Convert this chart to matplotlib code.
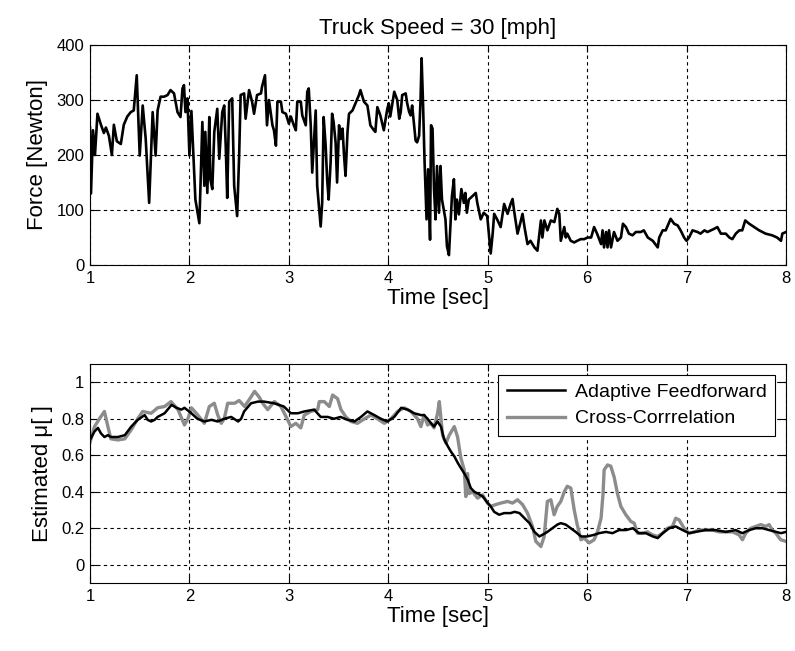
import matplotlib
matplotlib.use("Agg")
import matplotlib.pyplot as plt

plt.rcParams['font.family'] = ['Liberation Sans', 'DejaVu Sans']

# ---- Top panel: force signal ----
force_t = [1.00, 1.01, 1.02, 1.03, 1.05, 1.075, 1.11, 1.14, 1.16, 1.19, 1.22, 1.24, 1.27, 1.31, 1.34,
           1.375, 1.41, 1.44, 1.47, 1.50, 1.53, 1.56, 1.595, 1.63, 1.66, 1.68, 1.71, 1.745, 1.78, 1.81,
           1.845, 1.88, 1.91, 1.93, 1.945, 1.96, 1.98, 2.00, 2.02, 2.04, 2.06, 2.10, 2.13, 2.15, 2.16,
           2.18, 2.20, 2.21, 2.23, 2.25, 2.28, 2.30, 2.315, 2.33, 2.35, 2.365, 2.38, 2.40, 2.43, 2.45,
           2.48, 2.50, 2.515, 2.55, 2.565, 2.60, 2.63, 2.65, 2.68, 2.72, 2.73, 2.76, 2.78, 2.80, 2.835,
           2.85, 2.87, 2.885, 2.92, 2.935, 2.97, 3.00, 3.02, 3.05, 3.07, 3.085, 3.12, 3.135, 3.17, 3.185,
           3.20, 3.22, 3.235, 3.27, 3.285, 3.32, 3.335, 3.35, 3.37, 3.385, 3.40, 3.42, 3.435, 3.45, 3.47,
           3.485, 3.505, 3.52, 3.54, 3.555, 3.57, 3.59, 3.605, 3.64, 3.67, 3.705, 3.72, 3.755, 3.79, 3.805,
           3.82, 3.855, 3.87, 3.89, 3.92, 3.955, 3.99, 4.005, 4.02, 4.06, 4.09, 4.11, 4.125, 4.14, 4.175,
           4.19, 4.21, 4.225, 4.24, 4.26, 4.275, 4.29, 4.31, 4.325, 4.335, 4.35, 4.365, 4.385, 4.40, 4.42,
           4.43, 4.445, 4.46, 4.475, 4.49, 4.51, 4.525, 4.54, 4.575, 4.59, 4.61, 4.625, 4.64, 4.66, 4.675,
           4.69, 4.71, 4.735, 4.76, 4.775, 4.79, 4.81, 4.845, 4.88, 4.895, 4.93, 4.96, 4.995, 5.03, 5.05,
           5.065, 5.10, 5.13, 5.165, 5.20, 5.23, 5.25, 5.265, 5.30, 5.33, 5.35, 5.37, 5.40, 5.43, 5.47,
           5.50, 5.535, 5.55, 5.57, 5.60, 5.635, 5.67, 5.70, 5.72, 5.735, 5.77, 5.785, 5.80, 5.835, 5.87,
           5.90, 5.935, 5.97, 6.005, 6.04, 6.07, 6.10, 6.14, 6.155, 6.17, 6.19, 6.205, 6.22, 6.24, 6.27,
           6.305, 6.34, 6.36, 6.39, 6.42, 6.456, 6.49, 6.54, 6.57, 6.61, 6.66, 6.71, 6.725, 6.76, 6.79,
           6.825, 6.84, 6.875, 6.91, 6.94, 6.975, 7.00, 7.025, 7.06, 7.11, 7.14, 7.18, 7.21, 7.28, 7.31,
           7.345, 7.395, 7.43, 7.46, 7.495, 7.53, 7.56, 7.59, 7.63, 7.68, 7.73, 7.795, 7.86, 7.91, 7.95,
           7.963, 8.00]
force_n = [250, 130, 185, 245, 200, 275, 255, 240, 250, 235, 200, 255, 225, 220, 255,
           270, 278, 281, 345, 199, 290, 230, 113, 278, 199, 281, 306, 306, 309, 318,
           312, 278, 269, 321, 327, 278, 303, 199, 280, 200, 119, 76, 260, 144, 242,
           131, 269, 156, 138, 242, 284, 193, 235, 278, 290, 217, 122, 297, 303, 144,
           89, 199, 309, 312, 266, 318, 297, 275, 309, 312, 324, 345, 254, 300, 254,
           245, 217, 297, 297, 278, 275, 257, 270, 254, 245, 297, 297, 272, 254, 315,
           321, 254, 168, 281, 144, 70, 113, 269, 217, 156, 119, 187, 275, 260, 223,
           150, 254, 229, 248, 199, 162, 242, 275, 281, 294, 309, 318, 297, 290, 272,
           254, 245, 242, 287, 272, 245, 284, 294, 270, 315, 300, 266, 278, 309, 312,
           294, 278, 272, 290, 254, 226, 223, 235, 303, 376, 290, 187, 83, 174, 46,
           254, 248, 138, 83, 180, 95, 180, 119, 83, 34, 18, 70, 125, 156, 83,
           119, 92, 138, 113, 131, 95, 119, 125, 131, 113, 83, 95, 89, 21, 57,
           93, 81, 69, 111, 93, 111, 120, 99, 57, 78, 93, 69, 38, 44, 32,
           26, 81, 50, 81, 63, 81, 78, 102, 93, 44, 69, 50, 57, 44, 41,
           44, 47, 47, 50, 50, 69, 57, 38, 63, 32, 60, 32, 63, 32, 60,
           44, 50, 75, 69, 57, 54, 60, 60, 63, 50, 44, 32, 50, 63, 63,
           78, 84, 75, 72, 63, 50, 44, 50, 63, 60, 57, 63, 60, 66, 69,
           57, 57, 50, 47, 57, 63, 63, 81, 75, 69, 63, 57, 54, 50, 44,
           57, 60]

# ---- Bottom panel: estimated friction coefficient ----
af_t = [1.00, 1.045, 1.08, 1.11, 1.145, 1.18, 1.21, 1.28, 1.35, 1.415, 1.48, 1.55, 1.58, 1.615,
        1.65, 1.68, 1.75, 1.82, 1.87, 1.92, 1.95, 2.02, 2.08, 2.15, 2.22, 2.285, 2.35, 2.42, 2.49,
        2.52, 2.55, 2.62, 2.69, 2.75, 2.85, 2.95, 3.02, 3.09, 3.155, 3.255, 3.32, 3.39, 3.455, 3.52,
        3.59, 3.66, 3.725, 3.79, 3.86, 3.925, 3.99, 4.06, 4.13, 4.195, 4.26, 4.33, 4.36, 4.395, 4.43,
        4.46, 4.495, 4.53, 4.56, 4.60, 4.63, 4.665, 4.70, 4.73, 4.765, 4.80, 4.83, 4.865, 4.90, 4.95,
        5.00, 5.03, 5.065, 5.115, 5.165, 5.23, 5.27, 5.32, 5.37, 5.42, 5.47, 5.52, 5.55, 5.60, 5.65,
        5.70, 5.735, 5.785, 5.835, 5.885, 5.94, 6.00, 6.07, 6.12, 6.19, 6.255, 6.32, 6.39, 6.46, 6.52,
        6.59, 6.66, 6.71, 6.76, 6.825, 6.89, 6.96, 7.025, 7.09, 7.19, 7.29, 7.395, 7.495, 7.56, 7.63,
        7.695, 7.765, 7.83, 7.90, 7.95, 8.00]
af_mu = [0.684, 0.73, 0.75, 0.72, 0.70, 0.71, 0.70, 0.70, 0.71, 0.757, 0.794, 0.82, 0.794, 0.785,
         0.794, 0.81, 0.83, 0.876, 0.86, 0.85, 0.86, 0.83, 0.80, 0.785, 0.794, 0.785, 0.80, 0.81, 0.785,
         0.80, 0.84, 0.885, 0.894, 0.894, 0.885, 0.867, 0.83, 0.83, 0.84, 0.85, 0.81, 0.81, 0.80, 0.81,
         0.794, 0.785, 0.81, 0.84, 0.82, 0.80, 0.785, 0.81, 0.86, 0.85, 0.83, 0.82, 0.82, 0.80, 0.775,
         0.757, 0.785, 0.757, 0.69, 0.648, 0.62, 0.593, 0.557, 0.53, 0.50, 0.465, 0.42, 0.40, 0.39, 0.374,
         0.338, 0.32, 0.29, 0.274, 0.283, 0.283, 0.29, 0.283, 0.255, 0.228, 0.18, 0.155, 0.164, 0.18, 0.20,
         0.22, 0.228, 0.22, 0.20, 0.18, 0.155, 0.155, 0.164, 0.173, 0.18, 0.173, 0.19, 0.19, 0.20, 0.173,
         0.173, 0.155, 0.146, 0.173, 0.20, 0.21, 0.19, 0.173, 0.18, 0.19, 0.19, 0.18, 0.19, 0.173, 0.19,
         0.20, 0.20, 0.19, 0.18, 0.173, 0.18]

cc_t = [1.00, 1.045, 1.095, 1.145, 1.18, 1.21, 1.28, 1.35, 1.415, 1.48,
        1.53, 1.615, 1.68, 1.75, 1.815, 1.885, 1.95, 1.985, 2.02, 2.085,
        2.15, 2.20, 2.25, 2.285, 2.32, 2.35, 2.385, 2.455, 2.50, 2.555,
        2.62, 2.655, 2.70, 2.737, 2.787, 2.854, 2.92, 2.988, 3.02, 3.07,
        3.12, 3.155, 3.22, 3.29, 3.306, 3.356, 3.407, 3.44, 3.49, 3.524,
        3.574, 3.625, 3.69, 3.76, 3.825, 3.89, 3.96, 4.027, 4.094, 4.16,
        4.227, 4.294, 4.328, 4.36, 4.395, 4.43, 4.46, 4.496, 4.513, 4.53,
        4.546, 4.58, 4.613, 4.664, 4.697, 4.73, 4.764, 4.78, 4.797, 4.814,
        4.848, 4.898, 4.948, 4.998, 5.032, 5.082, 5.132, 5.20, 5.25, 5.30,
        5.35, 5.40, 5.45, 5.484, 5.535, 5.568, 5.60, 5.635, 5.668, 5.70,
        5.735, 5.77, 5.80, 5.836, 5.87, 5.90, 5.937, 5.97, 6.02, 6.07,
        6.104, 6.14, 6.16, 6.171, 6.205, 6.238, 6.272, 6.305, 6.339, 6.389,
        6.44, 6.473, 6.506, 6.556, 6.607, 6.657, 6.707, 6.758, 6.808, 6.858,
        6.891, 6.925, 6.975, 7.025, 7.076, 7.126, 7.193, 7.26, 7.327, 7.394,
        7.461, 7.528, 7.562, 7.595, 7.645, 7.696, 7.746, 7.796, 7.83, 7.863,
        7.897, 7.947, 8.00]
cc_mu = [0.67, 0.757, 0.80, 0.84, 0.757, 0.69, 0.684, 0.69, 0.74, 0.80,
         0.84, 0.83, 0.86, 0.867, 0.894, 0.85, 0.766, 0.80, 0.86, 0.82,
         0.775, 0.867, 0.885, 0.82, 0.775, 0.80, 0.885, 0.885, 0.90, 0.867,
         0.92, 0.95, 0.92, 0.885, 0.85, 0.894, 0.867, 0.794, 0.757, 0.775,
         0.75, 0.82, 0.84, 0.85, 0.894, 0.894, 0.867, 0.93, 0.91, 0.85,
         0.81, 0.785, 0.775, 0.80, 0.82, 0.80, 0.775, 0.80, 0.84, 0.86,
         0.84, 0.80, 0.757, 0.82, 0.766, 0.775, 0.75, 0.83, 0.894, 0.80,
         0.71, 0.666, 0.71, 0.757, 0.70, 0.584, 0.52, 0.374, 0.50, 0.39,
         0.40, 0.365, 0.383, 0.338, 0.32, 0.33, 0.338, 0.347, 0.338, 0.356,
         0.33, 0.283, 0.21, 0.128, 0.10, 0.155, 0.347, 0.356, 0.274, 0.32,
         0.347, 0.40, 0.43, 0.42, 0.30, 0.22, 0.137, 0.146, 0.12, 0.137,
         0.18, 0.255, 0.39, 0.52, 0.547, 0.54, 0.48, 0.39, 0.32, 0.274,
         0.237, 0.228, 0.173, 0.173, 0.18, 0.164, 0.155, 0.173, 0.20, 0.21,
         0.255, 0.246, 0.20, 0.173, 0.18, 0.19, 0.19, 0.19, 0.18, 0.18,
         0.18, 0.164, 0.137, 0.173, 0.20, 0.21, 0.22, 0.21, 0.22, 0.19,
         0.173, 0.137, 0.128]

x_ticks = [1, 2, 3, 4, 5, 6, 7, 8]
force_ticks = [0, 100, 200, 300, 400]
mu_ticks = [0, 0.2, 0.4, 0.6, 0.8, 1]

fig = plt.figure(figsize=(7.95, 6.51), dpi=100)
W, H = 795, 651
ax1 = fig.add_axes([90 / W, 1 - 265 / H, 696 / W, 220 / H])
ax2 = fig.add_axes([90 / W, 1 - 583 / H, 696 / W, 219 / H])

ax1.plot(force_t, force_n, color='black', lw=1.9)
ax1.set_xlim(1, 8)
ax1.set_ylim(0, 400)
ax1.set_xticks(x_ticks)
ax1.set_yticks(force_ticks)
ax1.set_title('Truck Speed = 30 [mph]', fontsize=16, pad=8)
ax1.set_xlabel('Time [sec]', fontsize=16, labelpad=2)
ax1.set_ylabel('Force [Newton]', fontsize=16, labelpad=6)

ax2.plot(cc_t, cc_mu, color='#8c8c8c', lw=2.4, label='Cross-Corrrelation', zorder=2)
ax2.plot(af_t, af_mu, color='black', lw=1.8, label='Adaptive Feedforward', zorder=3)
ax2.set_xlim(1, 8)
ax2.set_ylim(-0.1, 1.1)
ax2.set_xticks(x_ticks)
ax2.set_yticks(mu_ticks)
ax2.set_yticklabels(['0', '0.2', '0.4', '0.6', '0.8', '1'])
ax2.set_xlabel('Time [sec]', fontsize=16, labelpad=2)
ax2.set_ylabel('Estimated μ[ ]', fontsize=16, labelpad=6)
handles, labels = ax2.get_legend_handles_labels()
leg = ax2.legend(handles[::-1], labels[::-1], loc='upper right', fontsize=14,
                 fancybox=False, edgecolor='black', framealpha=1, handlelength=3.0,
                 handletextpad=0.5, borderaxespad=0.55, borderpad=0.45, labelspacing=0.45)
leg.get_frame().set_linewidth(0.8)

for ax in (ax1, ax2):
    ax.grid(True, color='black', linestyle=(0, (3, 3)), linewidth=0.8)
    ax.tick_params(direction='in', top=True, right=True, labelsize=12, length=5, pad=4)
    for s in ax.spines.values():
        s.set_linewidth(0.8)

fig.savefig('out.png', dpi=100)
